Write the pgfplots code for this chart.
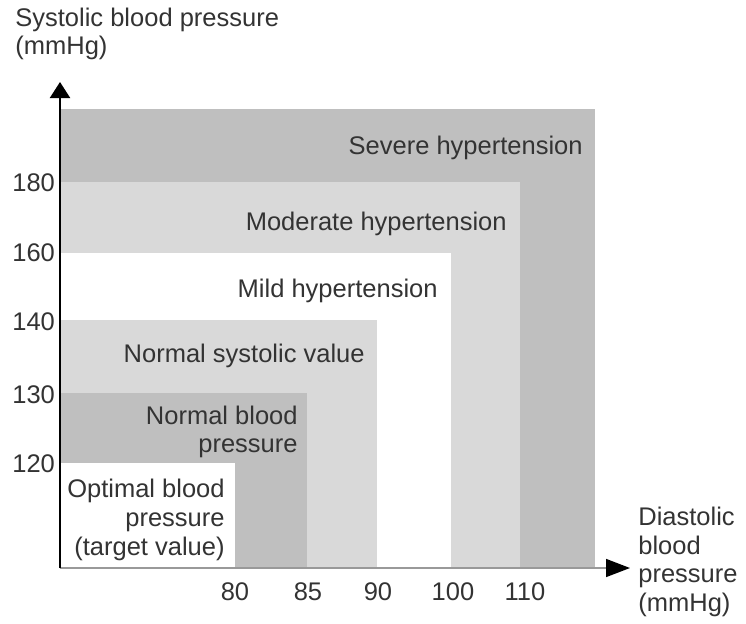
\documentclass[border=0pt]{standalone}
\usepackage{fontspec}
\setmainfont{Liberation Sans}
\usepackage{pgfplots}
\pgfplotsset{compat=1.18}
\usetikzlibrary{arrows.meta}
\definecolor{dk}{HTML}{BFBFBF}
\definecolor{lt}{HTML}{D9D9D9}
\definecolor{txt}{HTML}{333333}
\begin{document}
\begin{tikzpicture}
\begin{axis}[
 x=0.5pt, y=0.5pt,
 xmin=0, xmax=570, ymin=0, ymax=486,
 axis x line=bottom, axis y line=left,
 x axis line style={draw=gray!80, line width=0.8pt, -{Triangle[length=12pt,width=9pt,color=black]}},
 y axis line style={draw=black, line width=1pt, -{Triangle[length=8pt,width=10pt,color=black]}},
 xtick={175,248,318,393,465}, xticklabels={80,85,90,100,110},
 ytick={104,173,246,315,385}, yticklabels={120,130,140,160,180},
 major tick length=0pt,
 tick label style={font=\fontsize{12.75}{15}\selectfont, text=txt},
 /pgf/number format/assume math mode=true,
 xticklabel style={yshift=-4pt},
 yticklabel style={xshift=1pt},
 clip=false,
 axis on top,
]
\addplot[fill=dk, draw=none] coordinates {(0,0) (0,459) (535,459) (535,0)} -- cycle;
\addplot[fill=lt, draw=none] coordinates {(0,0) (0,386) (460,386) (460,0)} -- cycle;
\addplot[fill=white, draw=none] coordinates {(0,0) (0,315) (391,315) (391,0)} -- cycle;
\addplot[fill=lt, draw=none] coordinates {(0,0) (0,248) (317,248) (317,0)} -- cycle;
\addplot[fill=dk, draw=none] coordinates {(0,0) (0,175) (247,175) (247,0)} -- cycle;
\addplot[fill=white, draw=none] coordinates {(0,0) (0,105) (175,105) (175,0)} -- cycle;

\tikzset{lab/.style={anchor=east, align=right, text=txt, font=\fontsize{12.75}{14.3}\selectfont, inner sep=0pt}}
\node[lab] at (axis cs:523,420) {Severe hypertension};
\node[lab] at (axis cs:447,344) {Moderate hypertension};
\node[lab] at (axis cs:378,277) {Mild hypertension};
\node[lab] at (axis cs:305,212) {Normal systolic value};
\node[lab] at (axis cs:238,136) {Normal blood\\pressure};
\node[lab] at (axis cs:165,48) {Optimal blood\\pressure\\(target value)};

\node[anchor=west, align=left, text=txt, font=\fontsize{12.75}{14.3}\selectfont, inner sep=0pt] at (axis cs:-45,534) {Systolic blood pressure\\(mmHg)};
\node[anchor=west, align=left, text=txt, font=\fontsize{12.75}{14.3}\selectfont, inner sep=0pt] at (axis cs:578,6) {Diastolic\\blood\\pressure\\(mmHg)};

\path[draw=none] (axis cs:-60,-55) rectangle (axis cs:686,568);
\end{axis}
\end{tikzpicture}
\end{document}
